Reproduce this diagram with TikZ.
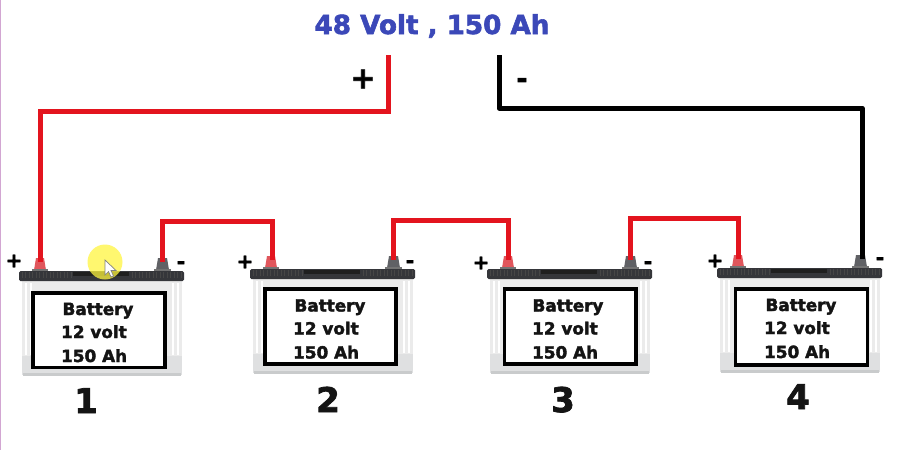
\documentclass[tikz,border=0pt]{standalone}
\usepackage{fontspec}
\setmainfont{DejaVu Sans}
\newfontfamily\heavyfont[FakeBold=2.2]{DejaVu Sans Bold}
\definecolor{wirered}{HTML}{E3141E}
\definecolor{titleblue}{HTML}{3B48B8}
\definecolor{capdark}{HTML}{35363A}
\definecolor{bodygray}{HTML}{EBEBEB}
\definecolor{bodyedge}{HTML}{C9CBCC}
\definecolor{ribgray}{HTML}{DFE0E1}
\definecolor{posred}{HTML}{E0565C}
\definecolor{neggray}{HTML}{606165}
\tikzset{
  redwire/.style={draw=wirered,line width=5pt,line join=miter},
  blackwire/.style={draw=black,line width=5pt,line join=round},
  lbl/.style={font=\heavyfont\fontsize{16.8}{18}\selectfont,inner sep=0pt,text=black!92},
  batnum/.style={font=\heavyfont\fontsize{34}{36}\selectfont,inner sep=0pt,text=black!92},
  signlbl/.style={font=\heavyfont\fontsize{20}{22}\selectfont,inner sep=0pt,text=black},
  minuslbl/.style={font=\heavyfont\fontsize{21}{22}\selectfont,inner sep=0pt,text=black},
  title/.style={font=\heavyfont\fontsize{26.2}{28}\selectfont,inner sep=0pt,text=titleblue},
  labelbox/.style={draw=black,line width=3.6pt,fill=white},
  bigsign/.style={font=\heavyfont\fontsize{30}{32}\selectfont,inner sep=0pt,text=black},
  bigminus/.style={font=\heavyfont\fontsize{27}{32}\selectfont,inner sep=0pt,text=black},
}
% #1 name, #2 x, #3 y (lid top-left), #4 box left, #5 box right, #6 Battery centre, #7 text left, #8 box top, #9 box bottom
\newcommand{\batterypack}[9]{%
\begin{scope}[shift={(#2,#3)}]
  % body
  \fill[bodygray] (3,9) rectangle (163,104);
  \fill[ribgray] (3,85) rectangle (163,104);
  \fill[bodyedge] (4,102) rectangle (162,104.5);
  \foreach \rx in {6,11,153,158}{\fill[white] (\rx,12) rectangle (\rx+2,84);}
  % terminals
  \fill[posred] (15,-1) -- (17,-13) -- (25,-13) -- (27,-1) -- cycle;
  \fill[neggray] (137,-1) -- (139,-13) -- (148,-13) -- (150,-1) -- cycle;
  \fill[black!55] (13,-2) rectangle (29,0);
  \fill[black!55] (135,-2) rectangle (152,0);
  % lid
  \fill[capdark,rounded corners=1.5pt] (0,0) rectangle (165,10);
  \foreach \rx in {3,6.5,...,52,113,116.5,...,163}{\draw[black!45!gray,line width=.9pt] (\rx,1) -- (\rx,7);}
  \fill[black!88] (54,1) rectangle (110,5);
  % label
  \draw[labelbox] (#4,#8) rectangle (#5,#9);
  \node[lbl,anchor=base] (#1name) at (#6,44+\tdrop) {Battery};
  \node[lbl,anchor=base west] (#1volt) at (#7,67+\tdrop) {12 volt};
  \node[lbl,anchor=base west] (#1ah) at (#7,91+\tdrop) {150 Ah};
  \coordinate (#1pos) at (21,-9);
  \coordinate (#1neg) at (143,-9);
\end{scope}}
\begin{document}
\begin{tikzpicture}[x=1pt,y=-1pt]
\useasboundingbox (0,0) rectangle (900,450);
\fill[white] (0,0) rectangle (900,450);
\fill[violet!35] (0,0) rectangle (1.2,450);

\def\tdrop{0}
\batterypack{a}{19}{271}{14}{146}{79}{42}{22}{96.5}
\def\tdrop{-1.5}
\batterypack{b}{250}{269}{15}{146}{80}{43}{20}{95}
\batterypack{c}{487}{269}{17.5}{149}{81}{45}{20}{95}
\def\tdrop{-1}
\batterypack{d}{717}{268}{18.5}{150.5}{84}{47}{21}{97}

% free ends of the output leads
\coordinate (outpos) at (388,55);
\coordinate (outneg) at (499,55);
\coordinate (dneglead) at ([xshift=2pt]dneg);
\coordinate (bposlead) at ([xshift=1pt]bpos);

% connectors
\draw[redwire] (outpos) -- ++(0,56) -| (apos);
\draw[redwire] (aneg) -- ++(0,-41) -| (bposlead);
\draw[redwire] (bneg) -- ++(0,-40) -| (cpos);
\draw[redwire] (cneg) -- ++(0,-42) -| (dpos);
\draw[blackwire] (outneg) -- ++(0,53) -| (dneglead);

% text
\node[title,anchor=base] (ttl) at (432,34) {48 Volt , 150 Ah};
\node[bigsign] (plusout) at (363,79) {+};
\node[bigminus] (minusout) at (522,83) {-};
\node[signlbl] (pa) at (14,261) {+};
\node[minuslbl] (ma) at (181,265) {-};
\node[signlbl] (pb) at (245,262) {+};
\node[minuslbl] (mb) at (410,264) {-};
\node[signlbl] (pc) at (481,263) {+};
\node[minuslbl] (mc) at (648,265) {-};
\node[signlbl] (pd) at (715,261) {+};
\node[minuslbl] (md) at (880,261) {-};
\node[batnum,anchor=base] (n1) at (86,413) {1};
\node[batnum,anchor=base] (n2) at (328,412) {2};
\node[batnum,anchor=base] (n3) at (563,412) {3};
\node[batnum,anchor=base] (n4) at (798,409) {4};

% pointer highlight
\fill[yellow!75!white,fill opacity=.75] (105,262) circle (17.5);
\fill[white,draw=gray,line width=.7pt] (105,260) -- (105,275) -- (108.5,271.5) -- (111,277) -- (113.5,276) -- (111,270.5) -- (116,270.5) -- cycle;
\end{tikzpicture}
\end{document}
